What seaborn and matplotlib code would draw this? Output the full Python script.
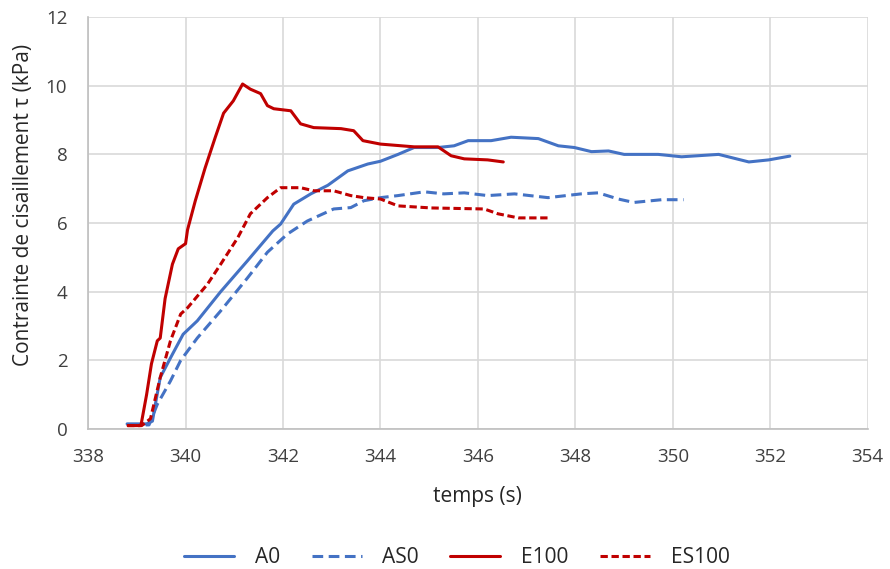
import pandas as pd
import matplotlib
matplotlib.use('Agg')
import matplotlib.pyplot as plt
import seaborn as sns

# A0 (blue solid)
a0_t = [338.8, 339.2, 339.32, 339.38, 339.48, 339.69, 339.95, 340.24, 340.72, 341.27, 341.79, 341.95,
        342.22, 342.57, 342.92, 343.33, 343.74, 344.0, 344.36, 344.69, 345.18, 345.51, 345.8, 346.27,
        346.68, 347.24, 347.65, 347.98, 348.33, 348.68, 349.0, 349.7, 350.18, 350.94, 351.56, 351.97, 352.4]
a0_v = [0.15, 0.15, 0.23, 0.72, 1.5, 2.07, 2.76, 3.15, 4.0, 4.9, 5.77, 5.97,
        6.55, 6.85, 7.1, 7.52, 7.72, 7.8, 8.0, 8.2, 8.2, 8.25, 8.4, 8.4,
        8.5, 8.46, 8.25, 8.2, 8.08, 8.1, 8.0, 8.0, 7.93, 8.0, 7.78, 7.84, 7.95]

# AS0 (blue dashed)
as0_t = [338.85, 339.25, 339.42, 339.69, 339.9, 340.24, 340.72, 341.27, 341.68, 342.09, 342.5, 343.04,
         343.39, 343.66, 344.0, 344.36, 344.9, 345.3, 345.72, 346.2, 346.75, 347.44, 348.12, 348.47,
         348.88, 349.2, 349.77, 350.22]
as0_v = [0.12, 0.12, 0.72, 1.4, 2.0, 2.65, 3.44, 4.4, 5.15, 5.68, 6.06, 6.41,
         6.45, 6.65, 6.74, 6.8, 6.91, 6.85, 6.88, 6.8, 6.85, 6.74, 6.85, 6.88,
         6.7, 6.6, 6.68, 6.68]

# E100 (red solid)
e100_t = [338.82, 339.07, 339.09, 339.2, 339.3, 339.42, 339.48, 339.58, 339.73, 339.85, 340.0, 340.04,
          340.2, 340.4, 340.61, 340.78, 340.98, 341.17, 341.33, 341.54, 341.68, 341.81, 342.16, 342.36,
          342.63, 343.19, 343.45, 343.64, 344.0, 344.69, 345.18, 345.45, 345.72, 346.2, 346.52]
e100_v = [0.1, 0.1, 0.15, 1.0, 1.9, 2.57, 2.65, 3.8, 4.8, 5.25, 5.4, 5.8,
          6.65, 7.6, 8.5, 9.2, 9.56, 10.05, 9.9, 9.77, 9.42, 9.33, 9.27, 8.89,
          8.78, 8.75, 8.69, 8.4, 8.3, 8.22, 8.22, 7.96, 7.87, 7.84, 7.78]

# ES100 (red dashed)
es100_t = [338.8, 339.1, 339.28, 339.48, 339.69, 339.9, 340.04, 340.45, 340.72, 341.07, 341.33, 341.68,
           341.95, 342.36, 342.63, 343.04, 343.39, 343.66, 344.0, 344.36, 345.04, 346.13, 346.41, 346.83,
           347.47]
es100_v = [0.1, 0.1, 0.3, 1.5, 2.57, 3.35, 3.53, 4.22, 4.8, 5.57, 6.27, 6.74,
           7.03, 7.03, 6.94, 6.94, 6.8, 6.74, 6.7, 6.5, 6.44, 6.41, 6.27, 6.15,
           6.15]

series = [('A0', a0_t, a0_v), ('AS0', as0_t, as0_v), ('E100', e100_t, e100_v), ('ES100', es100_t, es100_v)]
rows = [(name, t, v) for name, ts, vs in series for t, v in zip(ts, vs)]
df = pd.DataFrame(rows, columns=['essai', 'temps', 'tau'])

styles = {
    'A0': dict(color='#4472C4', linestyle='-'),
    'AS0': dict(color='#4472C4', linestyle=(0, (3.5, 1.8))),
    'E100': dict(color='#C00000', linestyle='-'),
    'ES100': dict(color='#C00000', linestyle=(0, (2.4, 1.2))),
}

sns.set_style('white')
plt.rcParams['font.family'] = ['Open Sans', 'DejaVu Sans']

fig = plt.figure(figsize=(8.9, 5.69), dpi=100)
ax = fig.add_axes([0.099, 0.246, 0.876, 0.724])

for name in ['A0', 'AS0', 'E100', 'ES100']:
    sub = df[df['essai'] == name]
    sns.lineplot(data=sub, x='temps', y='tau', ax=ax, label=name, linewidth=2.2,
                 sort=False, estimator=None, **styles[name])

ax.set_xlim(338, 354)
ax.set_ylim(0, 12)
ax.set_xticks(range(338, 355, 2))
ax.set_yticks(range(0, 13, 2))
ax.grid(True, color='#D9D9D9', linewidth=1.2)
ax.set_axisbelow(True)
for s in ['top', 'right']:
    ax.spines[s].set_visible(False)
for s in ['left', 'bottom']:
    ax.spines[s].set_color('#BFBFBF')
    ax.spines[s].set_linewidth(1.2)
ax.tick_params(labelsize=13.5, colors='#404040', length=0)
ax.tick_params(axis='x', pad=14)
ax.tick_params(axis='y', pad=15)

ax.set_xlabel('temps (s)', fontsize=15, color='#262626')
ax.set_ylabel('Contrainte de cisaillement τ (kPa)', fontsize=15, color='#262626')
ax.xaxis.set_label_coords(0.5, -0.165)
ax.xaxis.label.set_verticalalignment('center')
ax.yaxis.set_label_coords(-0.083, 0.544)
ax.yaxis.label.set_verticalalignment('center')

ax.legend(loc='center', bbox_to_anchor=(0.473, -0.313), ncol=4, frameon=False,
          fontsize=15, handlelength=2.4, columnspacing=1.5, handletextpad=1.0)

fig.savefig('out.png', dpi=100)
